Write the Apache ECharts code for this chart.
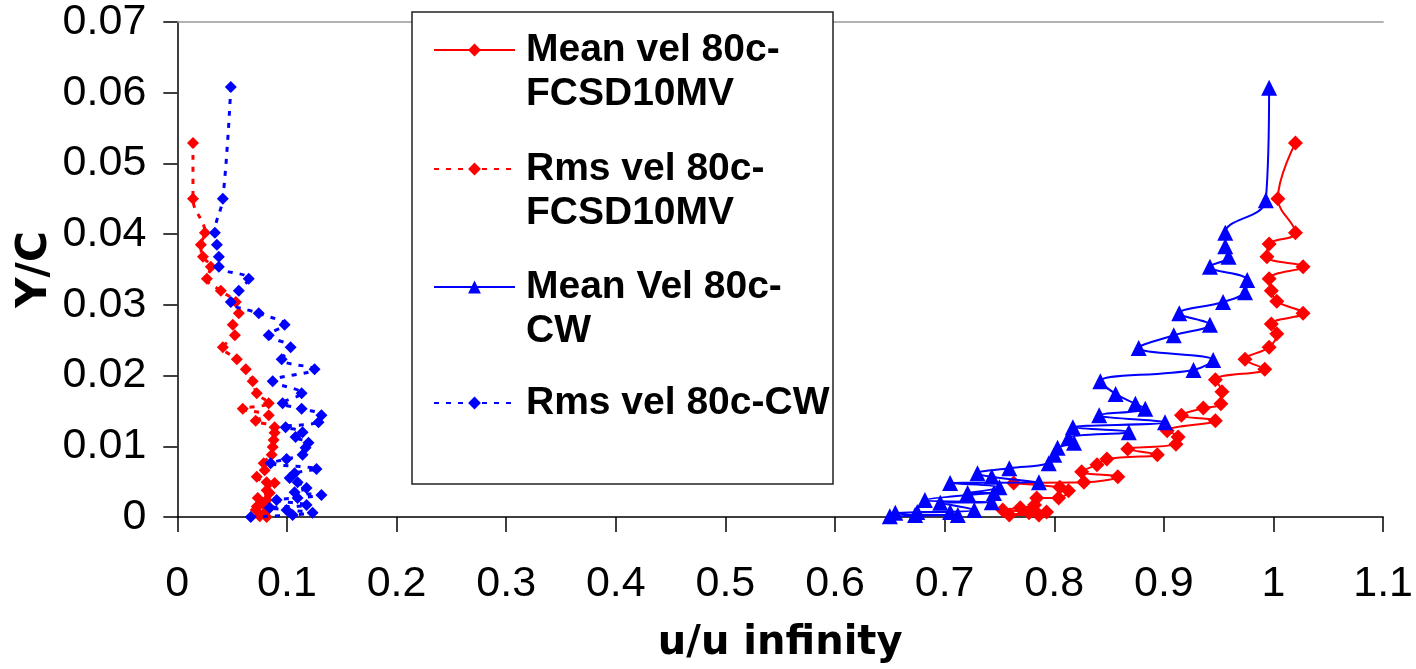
<!DOCTYPE html>
<html>
<head>
<meta charset="utf-8">
<script src="https://cdn.jsdelivr.net/npm/echarts@6/dist/echarts.min.js"></script>
<style>html,body{margin:0;padding:0;background:#fff}#c{width:1416px;height:669px}</style>
</head>
<body>
<div id="c"></div>
<script>
// ---- data (x = u/u infinity, y = Y/C) ----
const seriesNames = ['Mean vel 80c-FCSD10MV', 'Rms vel 80c-FCSD10MV', 'Mean Vel 80c-CW', 'Rms vel 80c-CW'];
const legendLabels = ['Mean vel 80c-\nFCSD10MV', 'Rms vel 80c-\nFCSD10MV', 'Mean Vel 80c-\nCW', 'Rms vel 80c-CW'];
const xAxisName = 'u/u infinity';
const yAxisName = 'Y/C';
const xMin = 0, xMax = 1.1, xStep = 0.1;
const yMin = 0, yMax = 0.07, yStep = 0.01;

const meanFCSD = [
  [1.020,0.0529],[1.004,0.0450],[1.020,0.0402],[0.996,0.0386],[0.994,0.0368],[1.027,0.0354],
  [0.996,0.0337],[0.998,0.0320],[1.003,0.0305],[1.027,0.0288],[0.998,0.0273],[1.003,0.0259],
  [0.996,0.0240],[0.974,0.0223],[0.992,0.0209],[0.947,0.0194],[0.953,0.0177],[0.952,0.0160],
  [0.936,0.0154],[0.916,0.0144],[0.947,0.0136],[0.903,0.0122],[0.913,0.0113],[0.911,0.0103],
  [0.867,0.0096],[0.894,0.0088],[0.848,0.0082],[0.839,0.0074],[0.825,0.0064],[0.858,0.0057],
  [0.827,0.0049],[0.763,0.0048],[0.805,0.0042],[0.813,0.0037],[0.804,0.0027],[0.784,0.0027],
  [0.782,0.0017],[0.769,0.0013],[0.753,0.0010],[0.793,0.0007],[0.777,0.0006],[0.759,0.0003],
  [0.786,0.0003]
];
const rmsFCSD = [
  [0.0143,0.0529],[0.0143,0.0450],[0.0252,0.0402],[0.0215,0.0385],[0.0234,0.0368],[0.0306,0.0354],
  [0.0270,0.0337],[0.0397,0.0320],[0.0534,0.0304],[0.0561,0.0288],[0.0506,0.0272],[0.0525,0.0257],
  [0.0415,0.0240],[0.0543,0.0223],[0.0625,0.0209],[0.0688,0.0192],[0.0725,0.0175],[0.0834,0.0161],
  [0.0597,0.0153],[0.0834,0.0144],[0.0715,0.0136],[0.0888,0.0127],[0.0888,0.0119],[0.0879,0.0109],
  [0.0870,0.0099],[0.0861,0.0088],[0.0788,0.0076],[0.0797,0.0066],[0.0725,0.0057],[0.0815,0.0049],
  [0.0888,0.0048],[0.0815,0.0038],[0.0843,0.0034],[0.0734,0.0027],[0.0815,0.0024],[0.0779,0.0020],
  [0.0725,0.0015],[0.0843,0.0013],[0.0715,0.0010],[0.0797,0.0006],[0.0752,0.0001],[0.0815,0.0000]
];
const meanCW = [
  [0.996,0.0607],[0.993,0.0448],[0.956,0.0402],[0.956,0.0383],[0.959,0.0368],[0.942,0.0354],
  [0.976,0.0335],[0.974,0.0318],[0.954,0.0304],[0.914,0.0288],[0.942,0.0272],[0.909,0.0257],
  [0.877,0.0239],[0.945,0.0222],[0.927,0.0208],[0.842,0.0192],[0.856,0.0174],[0.874,0.0160],
  [0.883,0.0153],[0.841,0.0144],[0.901,0.0134],[0.817,0.0127],[0.868,0.0120],[0.813,0.0112],
  [0.818,0.0105],[0.803,0.0098],[0.800,0.0088],[0.795,0.0076],[0.759,0.0069],[0.730,0.0062],
  [0.743,0.0057],[0.786,0.0049],[0.705,0.0048],[0.750,0.0042],[0.721,0.0034],[0.745,0.0034],
  [0.682,0.0024],[0.743,0.0021],[0.696,0.0020],[0.727,0.0010],[0.675,0.0007],[0.705,0.0007],
  [0.655,0.0006],[0.673,0.0003],[0.712,0.0003],[0.650,0.0001]
];
const rmsCW = [
  [0.0488,0.0608],[0.0415,0.0450],[0.0343,0.0402],[0.0361,0.0385],[0.0379,0.0368],[0.0379,0.0354],
  [0.0652,0.0337],[0.0561,0.0320],[0.0488,0.0304],[0.0743,0.0288],[0.0979,0.0272],[0.0834,0.0257],
  [0.1034,0.0240],[0.0952,0.0223],[0.1252,0.0209],[0.0870,0.0192],[0.1134,0.0175],[0.0961,0.0161],
  [0.1134,0.0153],[0.1315,0.0144],[0.1288,0.0134],[0.0988,0.0127],[0.1143,0.0120],[0.1079,0.0113],
  [0.1197,0.0105],[0.1170,0.0098],[0.1143,0.0088],[0.0997,0.0082],[0.0852,0.0076],[0.1270,0.0068],
  [0.1070,0.0062],[0.1025,0.0055],[0.1097,0.0049],[0.1179,0.0041],[0.1070,0.0035],[0.1315,0.0031],
  [0.1097,0.0027],[0.0906,0.0024],[0.1179,0.0017],[0.0843,0.0013],[0.0997,0.0010],[0.1234,0.0006],
  [0.1052,0.0003],[0.0670,0.0000]
];

const RED = '#ff0000', BLUE = '#0000ff';
const labelFont = 'Liberation Sans, Arial, sans-serif';
const nameFont = 'DejaVu Sans, Verdana, sans-serif';

function legendFor(i, top, twoLine) {
  return {
    data: [seriesNames[i]],
    orient: 'vertical',
    left: 433,
    top: top,
    padding: 0,
    itemWidth: 81,
    itemHeight: 16,
    z: 20,
    selectedMode: false,
    formatter: function () { return twoLine ? '\n' + legendLabels[i] : legendLabels[i]; },
    textStyle: {
      fontFamily: labelFont, fontWeight: 'bold', fontSize: 39, lineHeight: 44,
      color: '#000', padding: [0, 0, 0, 6]
    }
  };
}

const chart = echarts.init(document.getElementById('c'), null, {renderer: 'canvas'});
chart.setOption({
  animation: false,
  backgroundColor: '#fff',
  grid: {left: 177.3, right: 28.7, top: 22, bottom: 152},
  graphic: [{
    type: 'rect', z: 10,
    shape: {x: 412, y: 12, width: 421, height: 472},
    style: {fill: '#fff', stroke: '#222', lineWidth: 1.5}
  }],
  legend: [legendFor(0, -16, true), legendFor(1, 103, true), legendFor(2, 221, true), legendFor(3, 381, false)],
  xAxis: [{
    type: 'value', min: xMin, max: xMax, interval: xStep,
    axisLine: {show: true, onZero: false, lineStyle: {color: '#000', width: 1.5}},
    axisTick: {show: true, length: 15, lineStyle: {color: '#000', width: 1.5}},
    axisLabel: {fontSize: 43, fontFamily: labelFont, color: '#000', margin: 46},
    splitLine: {show: false},
    name: xAxisName, nameLocation: 'middle', nameGap: 107,
    nameTextStyle: {fontFamily: nameFont, fontWeight: 'bold', fontSize: 40, color: '#000'}
  }, {
    type: 'value', position: 'top', min: xMin, max: xMax, interval: xStep,
    axisLine: {show: true, onZero: false, lineStyle: {color: '#999', width: 1.5}},
    axisTick: {show: false}, axisLabel: {show: false}, splitLine: {show: false}
  }],
  yAxis: {
    type: 'value', min: yMin, max: yMax, interval: yStep,
    axisLine: {show: true, onZero: false, lineStyle: {color: '#000', width: 1.5}},
    axisTick: {show: true, length: 14, lineStyle: {color: '#000', width: 1.5}},
    axisLabel: {fontSize: 43, fontFamily: labelFont, color: '#000', margin: 31},
    splitLine: {show: false},
    name: yAxisName, nameLocation: 'middle', nameGap: 121, nameRotate: 90, nameMoveOverlap: false,
    nameTextStyle: {fontFamily: nameFont, fontWeight: 'bold', fontSize: 42, color: '#000'}
  },
  series: [{
    name: seriesNames[0], type: 'line', data: meanFCSD, smooth: 0.4,
    symbol: 'diamond', symbolSize: 15,
    lineStyle: {color: RED, width: 2}, itemStyle: {color: RED}, z: 3
  }, {
    name: seriesNames[1], type: 'line', data: rmsFCSD, smooth: 0.4,
    symbol: 'diamond', symbolSize: 12,
    lineStyle: {color: RED, width: 3, type: [5, 7]}, itemStyle: {color: RED}, z: 3
  }, {
    name: seriesNames[2], type: 'line', data: meanCW, smooth: 0.4,
    symbol: 'triangle', symbolSize: 16,
    lineStyle: {color: BLUE, width: 2}, itemStyle: {color: BLUE}, z: 4
  }, {
    name: seriesNames[3], type: 'line', data: rmsCW, smooth: 0.4,
    symbol: 'diamond', symbolSize: 12,
    lineStyle: {color: BLUE, width: 3, type: [5, 7]}, itemStyle: {color: BLUE}, z: 4
  }]
});
</script>
</body>
</html>
